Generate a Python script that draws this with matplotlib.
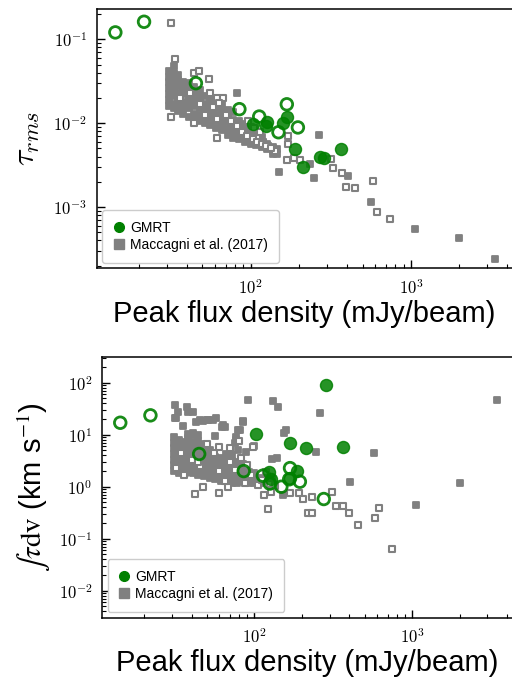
import numpy as np
import matplotlib
matplotlib.use('Agg')
import matplotlib.pyplot as plt
from matplotlib.lines import Line2D
from matplotlib.ticker import LogLocator, FuncFormatter, NullFormatter

plt.rcParams['font.family'] = ['Liberation Sans', 'DejaVu Sans']
plt.rcParams['mathtext.fontset'] = 'cm'

# ---------------- data: top panel (tau_rms) ----------------
# GMRT detections (filled) and non-detections (open)
gmrt_tau_det_x = [104, 124, 126, 160, 168, 189, 213, 271, 287, 366]
gmrt_tau_det_y = [0.0097, 0.0093, 0.0102, 0.0100, 0.0120, 0.0049, 0.0030, 0.0039, 0.0038, 0.0049]
gmrt_tau_non_x = [14.3, 21.6, 45.5, 85, 113, 168, 149, 197]
gmrt_tau_non_y = [0.121, 0.162, 0.030, 0.0147, 0.0120, 0.0168, 0.0078, 0.0089]

# Maccagni et al. (2017), filled squares
mac_tau_fill_x = [31, 31, 31, 31, 31, 31, 31,
                  33, 33, 33, 33, 33, 33, 33, 33,
                  35, 35, 35, 35, 35, 35, 35,
                  38, 38, 38, 38, 38, 38,
                  41, 41, 41, 41, 41, 41,
                  44, 44, 44, 44, 44, 44,
                  48, 48, 48, 48, 48, 48,
                  52, 52, 52, 52, 52,
                  56, 56, 56, 56, 56,
                  61, 61, 61, 61, 61,
                  66, 66, 66, 66, 66,
                  72, 72, 72, 72, 72,
                  78, 78, 78, 78, 78,
                  85, 85, 85, 85,
                  92, 92, 92, 92,
                  100, 100, 100, 100,
                  108, 108, 108,
                  117, 117, 117,
                  127, 127, 137, 137, 146, 146,
                  265, 151, 250, 235, 406, 563, 1060, 1995, 3340, 82, 138]
mac_tau_fill_y = [0.016, 0.019, 0.022, 0.026, 0.031, 0.036, 0.042,
                  0.015, 0.017, 0.021, 0.025, 0.029, 0.034, 0.040, 0.048,
                  0.014, 0.016, 0.019, 0.023, 0.028, 0.033, 0.038,
                  0.013, 0.015, 0.018, 0.022, 0.026, 0.031,
                  0.012, 0.015, 0.018, 0.021, 0.025, 0.030,
                  0.011, 0.013, 0.016, 0.019, 0.023, 0.027,
                  0.0105, 0.0125, 0.015, 0.018, 0.021, 0.025,
                  0.010, 0.012, 0.0145, 0.017, 0.021,
                  0.0095, 0.0115, 0.0135, 0.016, 0.019,
                  0.0088, 0.0105, 0.0125, 0.015, 0.018,
                  0.0082, 0.0098, 0.0115, 0.014, 0.017,
                  0.0072, 0.0086, 0.0102, 0.012, 0.0145,
                  0.0066, 0.0078, 0.0092, 0.011, 0.0135,
                  0.0064, 0.0075, 0.0088, 0.0105,
                  0.0060, 0.0070, 0.0082, 0.0098,
                  0.0057, 0.0066, 0.0077, 0.0090,
                  0.0055, 0.0063, 0.0073,
                  0.0052, 0.0060, 0.0068,
                  0.0049, 0.0056, 0.0046, 0.0052, 0.0043, 0.0049,
                  0.0073, 0.00265, 0.0022, 0.00325, 0.00234, 0.00116, 0.000542, 0.00043, 0.000238, 0.0231, 0.0043]

# Maccagni et al. (2017), open squares
mac_tau_open_x = [31.7, 33.7, 31.7, 44.4, 47.5, 55, 44.4, 61.5, 55.6, 61.2, 67.4,
                  172, 170, 168, 185, 203, 317, 328, 369, 395, 447, 582, 617, 740,
                  109, 120, 129, 142,
                  52, 58, 63, 70, 75, 82, 88, 95, 103, 110, 118, 125, 133, 96, 105, 115, 48, 42, 36, 62]
mac_tau_open_y = [0.158, 0.058, 0.0117, 0.040, 0.042, 0.0334, 0.010, 0.0066, 0.0227, 0.0199, 0.0199,
                  0.0071, 0.0056, 0.00366, 0.00383, 0.00366, 0.0037, 0.0029, 0.00252, 0.00175, 0.0017, 0.00204, 0.000865, 0.00073,
                  0.0067, 0.0060, 0.0053, 0.0046,
                  0.0125, 0.0155, 0.0175, 0.0125, 0.0105, 0.0093, 0.0078, 0.0071, 0.0065, 0.0060, 0.0057, 0.0053, 0.0050,
                  0.0105, 0.0087, 0.0078, 0.0170, 0.0230, 0.0200, 0.0112]

# ---------------- data: bottom panel (integrated tau) ----------------
gmrt_int_det_x = [282, 102, 169, 211, 365, 124, 185, 128, 169]
gmrt_int_det_y = [90, 10.4, 6.8, 5.6, 5.9, 1.9, 2.05, 1.4, 1.5]
gmrt_int_non_x = [14.1, 21.9, 44.6, 85.5, 113, 125, 148, 168, 166, 194, 275]
gmrt_int_non_y = [17.0, 23.6, 4.26, 2.0, 1.63, 1.15, 1.0, 2.28, 1.39, 1.25, 0.58]

mac_int_fill_x = [31, 31, 31, 31, 31, 31, 31,
                  32, 32, 32, 32, 32, 32,
                  33, 33, 33, 33, 33, 33, 33,
                  35, 35, 35, 35, 35, 35,
                  36.5, 36.5, 36.5, 36.5, 36.5, 36.5,
                  38, 38, 38, 38, 38, 38, 38, 38,
                  39.5, 39.5, 39.5, 39.5, 39.5, 39.5,
                  41, 41, 41, 41, 41, 41, 41,
                  42.5, 42.5, 42.5, 42.5, 42.5, 42.5,
                  44, 44, 44, 44, 44, 44, 44,
                  46, 46, 46, 46, 46, 46,
                  48, 48, 48, 48, 48, 48,
                  50, 50, 50, 50, 50,
                  52, 52, 52, 52, 52, 52,
                  54, 54, 54, 54, 54,
                  56, 56, 56, 56, 56,
                  58.5, 58.5, 58.5, 58.5,
                  61, 61, 61, 61, 61,
                  63.5, 63.5, 63.5, 63.5,
                  66, 66, 66, 66, 66, 66,
                  69, 69, 69, 69, 69,
                  72, 72, 72, 72, 72, 72,
                  75, 75, 75, 75,
                  78, 78, 78, 78, 78,
                  81.5, 81.5, 81.5,
                  85, 85, 85, 85,
                  88, 88, 88,
                  92, 92, 92,
                  96, 96,
                  100, 100, 100,
                  110, 110, 120, 120, 130,
                  91, 131, 141, 262, 3430, 158, 155, 571, 247, 406, 2000, 1050, 138, 130, 99,
                  85, 79, 76, 65, 56, 45, 49.7, 54.7, 37.9, 40.8, 31.3, 32.8, 31.3, 35.2, 42.8,
                  62, 151, 37.1, 57.4, 63.2, 84.7, 80.8, 76.9, 75, 78.8, 89, 40.8, 43.9, 32, 47.2, 50.8]
mac_int_fill_y = [2.0, 2.6, 3.3, 4.2, 5.5, 7.0, 9.0,
                  2.2, 2.9, 3.7, 4.7, 6.0, 7.6,
                  1.8, 2.3, 3.0, 3.8, 4.8, 6.2, 8.0,
                  2.0, 2.6, 3.4, 4.4, 5.6, 7.2,
                  1.8, 2.3, 3.0, 3.9, 5.0, 6.4,
                  1.9, 2.4, 3.1, 4.0, 5.2, 6.6, 8.5, 10.5,
                  2.1, 2.7, 3.5, 4.5, 5.8, 7.4,
                  1.8, 2.3, 2.9, 3.7, 4.8, 6.0, 9.8,
                  2.0, 2.6, 3.3, 4.2, 5.4, 6.8,
                  1.7, 2.2, 2.8, 3.6, 4.6, 5.9, 7.5,
                  1.8, 2.4, 3.1, 4.0, 5.1, 6.5,
                  1.6, 2.0, 2.6, 3.3, 4.2, 5.4,
                  1.8, 2.3, 2.9, 3.7, 4.7,
                  1.5, 1.9, 2.4, 3.1, 4.0, 5.0,
                  1.7, 2.1, 2.7, 3.5, 4.4,
                  1.4, 1.8, 2.3, 2.9, 3.7,
                  1.6, 2.0, 2.6, 3.3,
                  1.3, 1.7, 2.2, 2.8, 3.6,
                  1.5, 1.9, 2.5, 3.2,
                  1.3, 1.6, 2.0, 2.6, 3.3, 4.3,
                  1.4, 1.8, 2.2, 2.9, 3.7,
                  1.2, 1.5, 1.9, 2.4, 3.1, 4.0,
                  1.35, 1.7, 2.15, 2.8,
                  1.2, 1.5, 1.9, 2.4, 3.0,
                  1.35, 1.7, 2.2,
                  1.3, 1.6, 2.1, 2.7,
                  1.4, 1.8, 2.35,
                  1.2, 1.5, 1.9,
                  1.35, 1.65,
                  1.2, 1.5, 1.8,
                  1.2, 1.5, 1.3, 1.6, 1.4,
                  46.4, 44.5, 33.7, 26.5, 46.4, 12.3, 11.0, 4.4, 4.7, 1.25, 1.16, 0.445, 3.6, 3.4, 6.1,
                  18.1, 12.3, 8.0, 14.3, 9.4, 19.2, 19.5, 19.5, 27.7, 27.7, 37.3, 27.5, 20.7, 14.7, 17.8,
                  14.0, 0.69, 34.5, 20.6, 15.4, 17.8, 12.3, 9.2, 6.8, 5.1, 4.7, 10.6, 9.9, 20.6, 18.6, 19.4]

mac_int_open_x = [41.8, 59.4, 67.7, 87, 115, 122, 128, 168, 191, 203, 230, 219, 233, 310, 328, 365, 398,
                  450, 580, 617, 740, 98, 47.2,
                  34, 40, 45, 50, 55, 60, 65, 70, 75, 82, 90, 95, 105, 112, 118, 125, 135, 60, 70, 80, 32, 36, 44]
mac_int_open_y = [0.72, 0.77, 1.0, 1.16, 0.69, 0.367, 0.78, 0.746, 0.746, 0.573, 0.625, 0.31, 0.31, 0.80, 0.43, 0.43, 0.31,
                  0.183, 0.247, 0.385, 0.0625, 5.9, 1.0,
                  4.5, 3.2, 2.5, 6.5, 4.5, 2.0, 1.3, 3.0, 2.1, 3.5, 2.6, 1.7, 1.1, 1.35, 1.9, 1.15, 1.05, 5.8, 5.5, 7.5, 2.3, 1.7, 3.0]

# ---------------- plotting ----------------
fig = plt.figure(figsize=(5.12, 6.77), dpi=100)
ax1 = fig.add_axes([0.189, 0.6034, 0.811, 0.3833])
ax2 = fig.add_axes([0.1992, 0.0876, 0.8008, 0.3846])


def draw_panel(ax, mfx, mfy, mox, moy, gdx, gdy, gnx, gny):
    ax.scatter(mfx, mfy, marker='s', s=22, c='gray', edgecolors='gray', linewidths=1.3, zorder=2)
    ax.scatter(mox, moy, marker='s', s=22, facecolors='white', edgecolors='gray', linewidths=1.5, zorder=3)
    ax.scatter(gdx, gdy, marker='o', s=75, c='green', edgecolors='green', alpha=0.85, linewidths=1.0, zorder=4)
    ax.scatter(gnx, gny, marker='o', s=70, facecolors='none', edgecolors='green', alpha=0.9, linewidths=2.0, zorder=5)
    ax.set_xscale('log')
    ax.set_yscale('log')
    for axis in [ax.xaxis, ax.yaxis]:
        axis.set_major_locator(LogLocator(base=10, numticks=20))
        axis.set_minor_locator(LogLocator(base=10, subs=np.arange(2, 10), numticks=100))
        axis.set_major_formatter(FuncFormatter(lambda v, p: r'$10^{%d}$' % round(np.log10(v))))
        axis.set_minor_formatter(NullFormatter())
    ax.tick_params(which='both', direction='in', top=False, right=False, labelsize=12)
    ax.tick_params(which='major', length=6, width=1.0, pad=7)
    ax.tick_params(which='minor', length=3, width=0.8)
    ax.spines['right'].set_visible(False)
    for sp in ['left', 'bottom', 'top']:
        ax.spines[sp].set_linewidth(1.1)
    handles = [Line2D([], [], marker='o', ls='', color='green', markersize=7),
               Line2D([], [], marker='s', ls='', color='gray', markersize=7)]
    ax.legend(handles, ['GMRT', 'Maccagni et al. (2017)'], loc='lower left', fontsize=10,
              handlelength=0.8, handletextpad=0.4, borderaxespad=0.4, labelspacing=0.2,
              borderpad=0.8, framealpha=1.0)
    ax.set_xlabel('Peak flux density (mJy/beam)', fontsize=21, labelpad=2)


draw_panel(ax1, mac_tau_fill_x, mac_tau_fill_y, mac_tau_open_x, mac_tau_open_y,
           gmrt_tau_det_x, gmrt_tau_det_y, gmrt_tau_non_x, gmrt_tau_non_y)
ax1.set_xlim(10.95, 4270)
ax1.set_ylim(1.85e-4, 0.23)
ax1.set_ylabel(r'$\tau_{rms}$', fontsize=23, labelpad=8)

draw_panel(ax2, mac_int_fill_x, mac_int_fill_y, mac_int_open_x, mac_int_open_y,
           gmrt_int_det_x, gmrt_int_det_y, gmrt_int_non_x, gmrt_int_non_y)
ax2.set_xlim(10.8, 4290)
ax2.set_ylim(0.00303, 308)
ax2.set_ylabel(r'$\int\tau\mathrm{dv}$ (km s$^{-1}$)', fontsize=21, labelpad=4,
               math_fontfamily='stix')

fig.savefig('out.png', dpi=100)
